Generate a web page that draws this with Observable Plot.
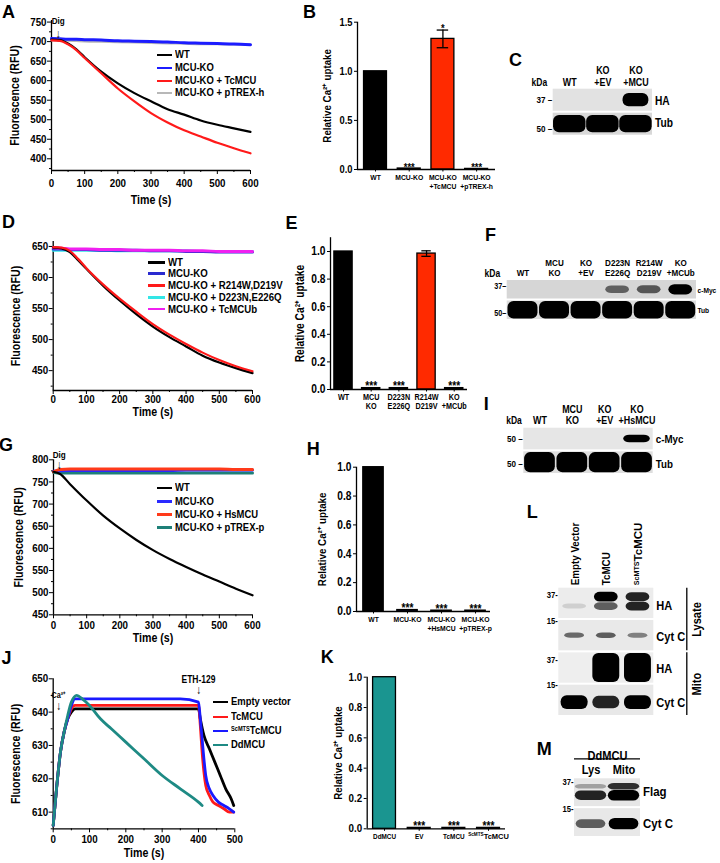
<!DOCTYPE html>
<html><head><meta charset="utf-8">
<script src="https://cdn.jsdelivr.net/npm/d3@7"></script>
<script src="https://cdn.jsdelivr.net/npm/@observablehq/plot@0.6"></script>
<style>
body{margin:0;background:#fff;}
#fig{position:relative;width:720px;height:863px;overflow:hidden;background:#fff;font-family:"Liberation Sans",Arial,sans-serif;font-weight:bold;color:#000;}
.lbl{position:absolute;font-family:"Liberation Sans",Arial,sans-serif;font-size:18px;font-weight:bold;line-height:1;}
.leg{position:absolute;white-space:nowrap;line-height:1;display:flex;align-items:center;}
.leg .ln{display:inline-block;height:2.5px;margin-right:3px;flex:none;}
.leg .tx{display:inline-block;transform-origin:left center;}
.leg sup{font-size:0.6em;vertical-align:0.5em;line-height:0;}
</style></head><body><div id="fig"></div>
<script>
// ---------------- DATA ----------------
// Panel A
const aTime = [0,25,50,75,100,150,200,250,300,350,400,450,500,550,600];
const aWT   = [705,704,695,680,660,623,593,568,547,527,513,498,487,478,469];
const aKO   = [708,707,706,706,705,704,702,701,700,699,697,696,695,694,692];
const aTc   = [703,702,693,678,658,619,580,547,517,493,473,457,441,427,414];
const aPT   = [704,703,703,702,701,700,699,698,697,696,695,694,694,693,692];
const aNames = ["WT","MCU-KO","MCU-KO + TcMCU","MCU-KO + pTREX-h"];
const aYTicks = [400,450,500,550,600,650,700,750];
const aYMinor = [375,425,475,525,575,625,675,725];
const digTimeA = 20;
// Panel B
const bCats = ["WT","MCU-KO","MCU-KO\n+TcMCU","MCU-KO\n+pTREX-h"];
const bVals = [1.0,0.01,1.33,0.006];
const bErrs = [0,0,0.09,0];
const bSig  = ["","***","*","***"];
const bYTicks = [0,0.5,1.0,1.5];
// Panel C
const cLanes = ["WT","KO\n+EV","KO\n+MCU"];
const cHA  = [0,0,1];
const cTub = [1,1,1];
// Panel D
const dTime = [0,25,50,75,100,150,200,250,300,350,400,450,500,550,600];
const dWT   = [648,647,641,628,614,587,563,541,521,504,489,474,463,454,446];
const dKO   = [646,646,645,645,645,644,644,644,643,643,642,642,641,641,641];
const dR214 = [649,648,643,630,615,589,566,545,525,508,493,479,467,457,449];
const dD223 = [644,644,644,644,644,644,643,643,643,643,643,642,642,642,642];
const dMCUb = [648,647,646,646,646,645,645,644,644,644,643,643,642,642,642];
const dNames = ["WT","MCU-KO","MCU-KO + R214W,D219V","MCU-KO + D223N,E226Q","MCU-KO + TcMCUb"];
const dYTicks = [450,500,550,600,650];
const dYMinor = [425,475,525,575,625];
// Panel E
const eCats = ["WT","MCU\nKO","D223N\nE226Q","R214W\nD219V","KO\n+MCUb"];
const eVals = [1.0,0.01,0.01,0.985,0.01];
const eErrs = [0,0,0,0.02,0];
const eSig  = ["","***","***","","***"];
const eYTicks = [0,0.2,0.4,0.6,0.8,1.0];
// Panel F
const fLanes = ["WT","MCU\nKO","KO\n+EV","D223N\nE226Q","R214W\nD219V","KO\n+MCUb"];
const fMyc = [0,0,0,0.55,0.6,1];
const fTub = [1,1,1,1,1,1];
// Panel G
const gTime = [0,20,50,100,150,200,250,300,350,400,450,500,550,600];
const gWT   = [773,768,745,708,674,645,619,596,576,558,541,525,509,494];
const gKO   = [774,775,776,776,776,776,776,776,776,777,777,777,777,777];
const gHs   = [773,778,779,779,779,779,779,779,779,779,779,779,778,778];
const gPT   = [772,770,770,770,770,770,770,770,770,770,770,770,770,770];
const gNames = ["WT","MCU-KO","MCU-KO + HsMCU","MCU-KO + pTREX-p"];
const gYTicks = [450,500,550,600,650,700,750,800];
const gYMinor = [475,525,575,625,675,725,775];
const digTimeG = 17;
// Panel H
const hCats = ["WT","MCU-KO","MCU-KO\n+HsMCU","MCU-KO\n+pTREX-p"];
const hVals = [1.0,0.01,0.006,0.006];
const hErrs = [0,0,0,0];
const hSig  = ["","***","***","***"];
const hYTicks = [0,0.2,0.4,0.6,0.8,1.0];
// Panel I
const iLanes = ["WT","MCU\nKO","KO\n+EV","KO\n+HsMCU"];
const iMyc = [0,0,0,1];
const iTub = [1,1,1,1];
// Panel J
const jTimeEV = [0,10,20,30,40,50,60,80,100,150,200,250,300,350,400,405,415,430,445,460,475,490,497];
const jEV     = [606,618,628,634,638,640,641,641,641,641,641,641,641,641,641,638,633,629,625,621,617,614,612];
const jTimeTc = [0,10,20,30,40,50,60,80,100,150,200,250,300,350,400,405,410,415,420,430,440,455,470,485,497];
const jTc     = [606,618,628,634,638,641,642,642,642,642,642,642,642,642,642,636,628,622,618,615,613,612,611,610,610];
const jSc     = [606,618,628,634,638,642,644,644,644,644,644,644,644,644,643,638,632,626,621,617,615,613,612,611,610];
const jTimeDd = [0,10,20,30,40,50,65,80,100,130,160,200,250,300,350,400,410];
const jDd     = [606,618,628,634,639,643,645,644,642,638,635,631,626,621,617,613,612];
const jNames = ["Empty vector","TcMCU","ScMTS TcMCU","DdMCU"];
const jYTicks = [610,620,630,640,650];
const jYMinor = [605,615,625,635,645];
const caTime = 15, ethTime = 400;
// Panel K
const kCats = ["DdMCU","EV","TcMCU","ScMTS TcMCU"];
const kVals = [1.0,0.006,0.006,0.006];
const kErrs = [0,0,0,0];
const kSig  = ["","***","***","***"];
const kYTicks = [0,0.2,0.4,0.6,0.8,1.0];
// Panel L
const lLanes = ["Empty Vector","TcMCU","ScMTS TcMCU"];
const lLysHAup  = [0,1,0.85];
const lLysHAlow = [0.12,0.6,0.85];
const lLysCytC  = [0.55,0.6,0.45];
const lMitoHA   = [0,1,1];
const lMitoCytC = [1,0.85,1];
// Panel M
const mLanes = ["Lys","Mito"];
const mFlagUp  = [0.3,0.8];
const mFlagLow = [0.85,1];
const mCytC    = [0.6,1];

const lineXTicks = [0,100,200,300,400,500,600];
const lineXMinor = [50,150,250,350,450,550];
const jXTicks = [0,100,200,300,400,500];
const jXMinor = [50,150,250,350,450];

// ---------------- HELPERS ----------------
const fig = document.getElementById("fig");
const FONT = '"Liberation Sans",Arial,sans-serif';
const STYLE = {fontFamily: FONT, fontWeight: "bold", color: "black", background: "transparent", overflow: "visible"};
const CONDENSE = 0.85;
let blurId = 0;

function place(el, L, T) {
  el.style.position = "absolute";
  el.style.left = L + "px";
  el.style.top = T + "px";
  el.style.overflow = "visible";
  el.style.maxWidth = "none";
  el.style.background = "transparent";
  fig.appendChild(el);
  return el;
}
function fixSuper(svg) {
  d3.select(svg).selectAll("text").each(function() {
    if (this.textContent === "ScMTS TcMCU" && this.children.length === 0) {
      this.textContent = "";
      this.setAttribute("data-super", "1");
      const s = d3.select(this);
      s.append("tspan").attr("font-size", "0.62em").attr("dy", -3).text("ScMTS");
      s.append("tspan").attr("dy", 3).text("TcMCU");
    }
  });
}
function linePanel(p) {
  const [L, T, W, H] = p.box, [x0, y0, x1, y1] = p.frame;
  const marks = [
    Plot.ruleX([p.xDomain[0]], {stroke: "black", strokeWidth: 1.3}),
    Plot.ruleY([p.yDomain[0]], {stroke: "black", strokeWidth: 1.3}),
    Plot.axisX(p.xTicks, {tickSize: 4, tickPadding: p.xPad, fontSize: 11.5, label: null}),
    Plot.axisX(p.xMinor, {tickSize: 2, tickFormat: () => "", label: null}),
    Plot.axisY(p.yTicks, {tickSize: 4, tickPadding: 1, fontSize: 11.5, label: null}),
    Plot.axisY(p.yMinor, {tickSize: 2, tickFormat: () => "", label: null})
  ];
  p.series.forEach(s => marks.push(Plot.line(s.t.map((t, i) => ({t, v: s.v[i]})),
    {x: "t", y: "v", stroke: s.color, strokeWidth: s.w, curve: "monotone-x"})));
  marks.push(Plot.text([p.yLabel], {text: d => d, frameAnchor: "left", textAnchor: "middle", rotate: -90, dx: -p.yLabelOffset, fontSize: 12.5}));
  marks.push(Plot.text([p.xLabel], {text: d => d, frameAnchor: "bottom", dy: p.xLabelOffset, fontSize: 12.5}));
  (p.notes || []).forEach(n => marks.push(Plot.text([n.t], {x: d => d, text: () => n.text, frameAnchor: "top", dy: n.dy, fontSize: n.size})));
  const svg = Plot.plot({width: W, height: H, marginLeft: x0 - L, marginRight: L + W - x1,
    marginTop: y0 - T, marginBottom: T + H - y1,
    x: {domain: p.xDomain, label: null}, y: {domain: p.yDomain, label: null}, style: STYLE, marks});
  return place(svg, L, T);
}
function barPanel(p) {
  const [L, T, W, H] = p.box, [x0, y0, x1, y1] = p.frame;
  const data = p.cats.map((c, i) => ({i, c, v: p.vals[i], e: p.errs[i], s: p.sig[i], fill: p.fills[i]}));
  const err = data.filter(d => d.e > 0);
  const hw = p.half;
  const marks = [
    Plot.rect(data, {x1: d => d.i - hw, x2: d => d.i + hw, y1: () => 0, y2: "v", fill: "fill", stroke: "black", strokeWidth: 1.3}),
    Plot.ruleX(err, {x: "i", y1: d => d.v - d.e, y2: d => d.v + d.e, strokeWidth: 1.3}),
    Plot.ruleY(err, {y: d => d.v + d.e, x1: d => d.i - 0.17, x2: d => d.i + 0.17, strokeWidth: 1.3}),
    Plot.ruleY(err, {y: d => d.v - d.e, x1: d => d.i - 0.17, x2: d => d.i + 0.17, strokeWidth: 1.3}),
    Plot.text(data.filter(d => d.s), {x: "i", y: d => d.v + d.e, text: "s", lineAnchor: "bottom", dy: 2, fontSize: p.starSize}),
    Plot.ruleX([p.xDomain[0]], {stroke: "black", strokeWidth: 1.3}),
    Plot.ruleY([0], {stroke: "black", strokeWidth: 1.3}),
    Plot.axisY(p.yTicks, {tickSize: 3, tickPadding: 2, tickFormat: d3.format(".1f"), fontSize: p.yTickSize, label: null}),
    Plot.axisX(d3.range(p.cats.length), {tickSize: 2.5, tickPadding: 1.5, tickFormat: i => p.cats[i], fontSize: p.catSize, lineHeight: 1.1, label: null}),
    Plot.text([p.yLabel], {text: d => d, frameAnchor: "left", textAnchor: "middle", rotate: -90, dx: -p.yLabelOffset, fontSize: p.yLabelSize})
  ];
  const svg = Plot.plot({width: W, height: H, marginLeft: x0 - L, marginRight: L + W - x1,
    marginTop: y0 - T, marginBottom: T + H - y1,
    x: {domain: p.xDomain, label: null}, y: {domain: p.yDomain, label: null},
    color: {type: "identity"}, style: STYLE, marks});
  fixSuper(svg);
  return place(svg, L, T);
}
function blotPanel(p) {
  const [L, T, W, H] = p.box, [x0, y0, x1, y1] = p.frame;
  const n = p.lanes.length, m = p.rows.length;
  const rows = p.rows.map((r, ri) => ({...r, ri}));
  const bands = [];
  rows.forEach(r => r.bands.forEach(b => b.vals.forEach((v, li) => {
    if (v > 0) bands.push({li, ri: r.ri, pos: b.pos, th: b.size * (0.45 + 0.55 * v), w: b.w, v});
  })));
  const marks = [
    Plot.rect(rows, {x1: () => -0.5, x2: () => n - 0.5, y1: d => d.ri, y2: d => d.ri + 1, fill: d => d.bg, insetTop: 1, insetBottom: 1}),
    Plot.rect(bands, {x1: d => d.li - d.w / 2, x2: d => d.li + d.w / 2, y1: d => d.ri + d.pos - d.th / 2, y2: d => d.ri + d.pos + d.th / 2,
      fill: "black", fillOpacity: d => d.v, rx: 6, ariaLabel: "band"}),
    Plot.axisX(d3.range(n), {anchor: "top", tickSize: 0, tickPadding: p.headPad, tickRotate: p.headRotate || 0,
      tickFormat: i => p.lanes[i], fontSize: p.headSize, lineHeight: 1.1, label: null}),
    Plot.text(rows.filter(r => r.marker), {x: () => -0.5, y: d => d.ri + d.mpos, text: d => d.marker + p.dash, textAnchor: "end", dx: -1, fontSize: p.markSize}),
    Plot.text(rows, {x: () => n - 0.5, y: d => d.ri + d.lpos, text: "label", textAnchor: "start", dx: p.labelDx ?? 2.5, fontSize: p.labelSize})
  ];
  if (p.kda) marks.push(Plot.text(["kDa"], {text: d => d, x: () => -0.5, y: () => 0, dx: p.kda[0], dy: p.kda[1], textAnchor: "end", lineAnchor: "bottom", fontSize: 10}));
  if (p.groups) {
    marks.push(Plot.ruleX(p.groups, {x: () => n - 0.5, y1: "from", y2: "to", dx: p.groupDx, insetTop: 1, insetBottom: 1, strokeWidth: 1.3}));
    marks.push(Plot.text(p.groups, {x: () => n - 0.5, y: d => (d.from + d.to) / 2, text: "label", textAnchor: "middle", rotate: -90, dx: p.groupDx + 10, fontSize: 13}));
  }
  if (p.title) {
    marks.push(Plot.text([p.title], {text: d => d, x: () => (n - 1) / 2, frameAnchor: "top", dy: p.titleDy, fontSize: 13}));
    marks.push(Plot.ruleY([0], {x1: () => -0.5, x2: () => n - 0.5, dy: p.lineDy, strokeWidth: 1.2}));
  }
  const svg = Plot.plot({width: W, height: H, marginLeft: x0 - L, marginRight: L + W - x1,
    marginTop: y0 - T, marginBottom: T + H - y1,
    x: {domain: [-0.5, n - 0.5], label: null}, y: {domain: [0, m], reverse: true, label: null, axis: null},
    color: {type: "identity"}, opacity: {type: "identity"}, style: STYLE, marks});
  const id = "blur" + (blurId++);
  d3.select(svg).append("defs").append("filter").attr("id", id)
    .attr("x", "-20%").attr("y", "-60%").attr("width", "140%").attr("height", "220%")
    .append("feGaussianBlur").attr("stdDeviation", 0.9);
  d3.select(svg).selectAll('g[aria-label="band"]').attr("filter", `url(#${id})`);
  fixSuper(svg);
  return place(svg, L, T);
}
function legend(names, colors, cfg) {
  names.forEach((name, k) => {
    const d = document.createElement("div");
    d.className = "leg";
    d.style.left = cfg.x + "px";
    d.style.top = (cfg.ys[k] - cfg.size / 2) + "px";
    d.style.height = cfg.size + "px";
    d.style.fontSize = cfg.size + "px";
    const label = name.startsWith("ScMTS ") ? "<sup>ScMTS</sup>" + name.slice(6) : name;
    d.innerHTML = `<span class="ln" style="width:${cfg.len}px;background:${colors[k]}"></span><span class="tx" style="transform:scaleX(${cfg.scale})">${label}</span>`;
    fig.appendChild(d);
  });
}
// narrow the bold sans text, as in the reference figure
function condense() {
  fig.querySelectorAll("svg text").forEach(t => {
    if (t.getAttribute("data-super")) return;
    const tspans = t.querySelectorAll("tspan");
    const targets = tspans.length ? [...tspans] : [t];
    targets.forEach(el => {
      const len = el.getComputedTextLength();
      if (len > 0) { el.setAttribute("textLength", (len * CONDENSE).toFixed(2)); el.setAttribute("lengthAdjust", "spacingAndGlyphs"); }
    });
  });
}

// ---------------- PANELS ----------------
const YL = "Fluorescence (RFU)", XL = "Time (s)", BL = "Relative Ca\u00B2\u207A uptake";

// A
const aColors = ["#000000", "#1c1cff", "#ff1a1a", "#b8b8b8"];
linePanel({box: [0, 0, 262, 215], frame: [51, 20, 250, 170], xDomain: [0, 600], yDomain: [370, 754],
  xTicks: lineXTicks, xMinor: lineXMinor, yTicks: aYTicks, yMinor: aYMinor, xPad: 4,
  yLabel: YL, xLabel: XL, yLabelOffset: 37, xLabelOffset: 33,
  series: [
    {t: aTime, v: aPT, color: aColors[3], w: 2.5},
    {t: aTime, v: aKO, color: aColors[1], w: 3},
    {t: aTime, v: aWT, color: aColors[0], w: 2.2},
    {t: aTime, v: aTc, color: aColors[2], w: 2.2}],
  notes: [{t: digTimeA, text: "Dig", dy: -3, size: 9.5}, {t: digTimeA, text: "\u2193", dy: 9, size: 12}]});
legend(aNames, aColors, {x: 157, ys: [55, 68, 81, 93], len: 15, size: 11.5, scale: 0.82});

// B
barPanel({box: [290, 0, 210, 215], frame: [357, 21.7, 495, 169], xDomain: [-0.534, 3.56], yDomain: [0, 1.5],
  cats: bCats, vals: bVals, errs: bErrs, sig: bSig, fills: ["#000000", "#000000", "#ff2a00", "#000000"],
  yTicks: bYTicks, half: 0.34, yLabel: BL, yLabelOffset: 30, yLabelSize: 11.5, yTickSize: 11, catSize: 8, starSize: 11});

// C
blotPanel({box: [500, 50, 220, 100], frame: [552.7, 87.7, 652, 135.7], lanes: cLanes, headPad: 2.5, headSize: 10.5,
  dash: " \u2013", markSize: 9.5, labelSize: 12, kda: [-6, -2],
  rows: [
    {label: "HA", marker: "37", mpos: 0.47, lpos: 0.52, bg: "#e2e2e2", bands: [{pos: 0.5, size: 0.55, w: 0.78, vals: cHA}]},
    {label: "Tub", marker: "50", mpos: 0.68, lpos: 0.47, bg: "#d8d8d8", bands: [{pos: 0.5, size: 0.72, w: 0.98, vals: cTub}]}]});

// D
const dColors = ["#000000", "#2a2ad0", "#ff1a1a", "#33e6e6", "#f020f0"];
linePanel({box: [0, 220, 262, 200], frame: [52.7, 241, 252, 390], xDomain: [0, 600], yDomain: [418, 658],
  xTicks: lineXTicks, xMinor: lineXMinor, yTicks: dYTicks, yMinor: dYMinor, xPad: 0.5,
  yLabel: YL, xLabel: XL, yLabelOffset: 37.7, xLabelOffset: 25,
  series: [
    {t: dTime, v: dD223, color: dColors[3], w: 3},
    {t: dTime, v: dKO, color: dColors[1], w: 3},
    {t: dTime, v: dMCUb, color: dColors[4], w: 3},
    {t: dTime, v: dWT, color: dColors[0], w: 2.2},
    {t: dTime, v: dR214, color: dColors[2], w: 2.2}]});
legend(dNames, dColors, {x: 148, ys: [262.7, 273.7, 285.7, 297.7, 309], len: 17, size: 10.5, scale: 0.92});

// E
barPanel({box: [270, 220, 200, 200], frame: [330, 237.2, 467, 389], xDomain: [-0.47, 4.48], yDomain: [0, 1.1],
  cats: eCats, vals: eVals, errs: eErrs, sig: eSig, fills: ["#000000", "#000000", "#000000", "#ff2a00", "#000000"],
  yTicks: eYTicks, half: 0.33, yLabel: BL, yLabelOffset: 30, yLabelSize: 12, yTickSize: 12, catSize: 8.5, starSize: 12});

// F
blotPanel({box: [470, 225, 250, 100], frame: [506.7, 279, 696, 320], lanes: fLanes, headPad: 3.5, headSize: 9.5,
  dash: "\u2013", markSize: 8.5, labelSize: 7.8, labelDx: 1, kda: [-7, -3],
  rows: [
    {label: "c-Myc", marker: "37", mpos: 0.35, lpos: 0.55, bg: "#d6d6d6", bands: [{pos: 0.5, size: 0.5, w: 0.75, vals: fMyc}]},
    {label: "Tub", marker: "50", mpos: 0.65, lpos: 0.5, bg: "#dcdcdc", bands: [{pos: 0.5, size: 0.85, w: 0.95, vals: fTub}]}]});

// G
const gColors = ["#000000", "#2a2aff", "#ff3a1a", "#1e8078"];
linePanel({box: [0, 440, 262, 200], frame: [53, 459.3, 252, 614.3], xDomain: [0, 600], yDomain: [450, 800],
  xTicks: lineXTicks, xMinor: lineXMinor, yTicks: gYTicks, yMinor: gYMinor, xPad: 2,
  yLabel: YL, xLabel: XL, yLabelOffset: 35, xLabelOffset: 27,
  series: [
    {t: gTime, v: gPT, color: gColors[3], w: 3},
    {t: gTime, v: gKO, color: gColors[1], w: 3},
    {t: gTime, v: gHs, color: gColors[2], w: 3},
    {t: gTime, v: gWT, color: gColors[0], w: 2.2}],
  notes: [{t: digTimeG, text: "Dig", dy: -9, size: 9.5}, {t: digTimeG, text: "\u2193", dy: 1, size: 12}]});
legend(gNames, gColors, {x: 157, ys: [488, 501.7, 514.3, 527.3], len: 15, size: 11.5, scale: 0.82});

// H
barPanel({box: [290, 440, 205, 200], frame: [356, 466.7, 490, 611], xDomain: [-0.5, 3.44], yDomain: [0, 1],
  cats: hCats, vals: hVals, errs: hErrs, sig: hSig, fills: ["#000000", "#1a1a80", "#000000", "#000000"],
  yTicks: hYTicks, half: 0.30, yLabel: BL, yLabelOffset: 34, yLabelSize: 11.5, yTickSize: 12, catSize: 8, starSize: 12});

// I
blotPanel({box: [470, 395, 250, 85], frame: [523.3, 426.7, 652.7, 474], lanes: iLanes, headPad: 3, headSize: 10.5,
  dash: " \u2013", markSize: 9.5, labelSize: 11.5, kda: [-2, -3],
  rows: [
    {label: "c-Myc", marker: "50", mpos: 0.5, lpos: 0.5, bg: "#e6e6e6", bands: [{pos: 0.5, size: 0.32, w: 0.82, vals: iMyc}]},
    {label: "Tub", marker: "50", mpos: 0.55, lpos: 0.55, bg: "#dedede", bands: [{pos: 0.5, size: 0.85, w: 0.95, vals: iTub}]}]});

// J
const jColors = ["#000000", "#ff1a1a", "#1a1aff", "#1e8a84"];
linePanel({box: [0, 620, 262, 243], frame: [52.7, 678.3, 234.3, 828.3], xDomain: [0, 500], yDomain: [605, 650],
  xTicks: jXTicks, xMinor: jXMinor, yTicks: jYTicks, yMinor: jYMinor, xPad: 2,
  yLabel: YL, xLabel: XL, yLabelOffset: 37.7, xLabelOffset: 28.5,
  series: [
    {t: jTimeEV, v: jEV, color: jColors[0], w: 2.8},
    {t: jTimeTc, v: jTc, color: jColors[1], w: 2.8},
    {t: jTimeTc, v: jSc, color: jColors[2], w: 2.8},
    {t: jTimeDd, v: jDd, color: jColors[3], w: 2.8}],
  notes: [{t: caTime, text: "Ca\u00B2\u207A", dy: 13.5, size: 8.5}, {t: caTime, text: "\u2193", dy: 23, size: 12},
          {t: ethTime, text: "ETH-129", dy: -3, size: 10}, {t: ethTime, text: "\u2193", dy: 7, size: 12}]});
legend(jNames, jColors, {x: 213, ys: [702, 717, 731, 745], len: 15, size: 11.5, scale: 0.82});

// K
barPanel({box: [300, 640, 210, 223], frame: [366.7, 676.7, 505, 828.3], xDomain: [-0.5, 3.49], yDomain: [0, 1],
  cats: kCats, vals: kVals, errs: kErrs, sig: kSig, fills: ["#1a9590", "#000000", "#000000", "#000000"],
  yTicks: kYTicks, half: 0.33, yLabel: BL, yLabelOffset: 29, yLabelSize: 11.5, yTickSize: 11.5, catSize: 7.5, starSize: 12});

// L
blotPanel({box: [500, 500, 220, 225], frame: [558.3, 586.7, 653.3, 716], lanes: lLanes, headPad: 2, headSize: 11.5, headRotate: -90,
  dash: "-", markSize: 9, labelSize: 13,
  groups: [{label: "Lysate", from: 0, to: 2}, {label: "Mito", from: 2, to: 4}], groupDx: 33,
  rows: [
    {label: "HA", marker: "37", mpos: 0.26, lpos: 0.58, bg: "#ececec", bands: [
      {pos: 0.31, size: 0.3, w: 0.75, vals: lLysHAup}, {pos: 0.6, size: 0.3, w: 0.75, vals: lLysHAlow}]},
    {label: "Cyt C", marker: "15", mpos: 0.04, lpos: 0.55, bg: "#e9e9e9", bands: [{pos: 0.5, size: 0.22, w: 0.62, vals: lLysCytC}]},
    {label: "HA", marker: "37", mpos: 0.27, lpos: 0.52, bg: "#eeeeee", bands: [{pos: 0.5, size: 0.9, w: 0.85, vals: lMitoHA}]},
    {label: "Cyt C", marker: "15", mpos: 0.04, lpos: 0.58, bg: "#e8e8e8", bands: [{pos: 0.57, size: 0.42, w: 0.85, vals: lMitoCytC}]}]});

// M
blotPanel({box: [520, 735, 200, 110], frame: [574, 777.3, 640, 837], lanes: mLanes, headPad: 4, headSize: 13,
  dash: "-", markSize: 9, labelSize: 13.5, title: "DdMCU", titleDy: -27, lineDy: -19,
  rows: [
    {label: "Flag", marker: "37", mpos: 0.15, lpos: 0.45, bg: "#e6e6e6", bands: [
      {pos: 0.3, size: 0.25, w: 0.95, vals: mFlagUp}, {pos: 0.6, size: 0.35, w: 0.95, vals: mFlagLow}]},
    {label: "Cyt C", marker: "15", mpos: 0.04, lpos: 0.55, bg: "#e8e8e8", bands: [{pos: 0.55, size: 0.38, w: 0.9, vals: mCytC}]}]});

condense();

// Panel letters
const letters = [["A",2,2.7],["B",303,2.7],["C",509,50.7],["D",2,213],["E",285.5,214],["F",485,226],["G",-1,436],
  ["H",306.7,440],["I",483.7,395],["J",1.5,649],["K",320.7,648],["L",526.7,503],["M",536.7,740]];
letters.forEach(([t, x, y]) => {
  const d = document.createElement("div");
  d.className = "lbl"; d.textContent = t; d.style.left = x + "px"; d.style.top = y + "px";
  fig.appendChild(d);
});
</script></body></html>
